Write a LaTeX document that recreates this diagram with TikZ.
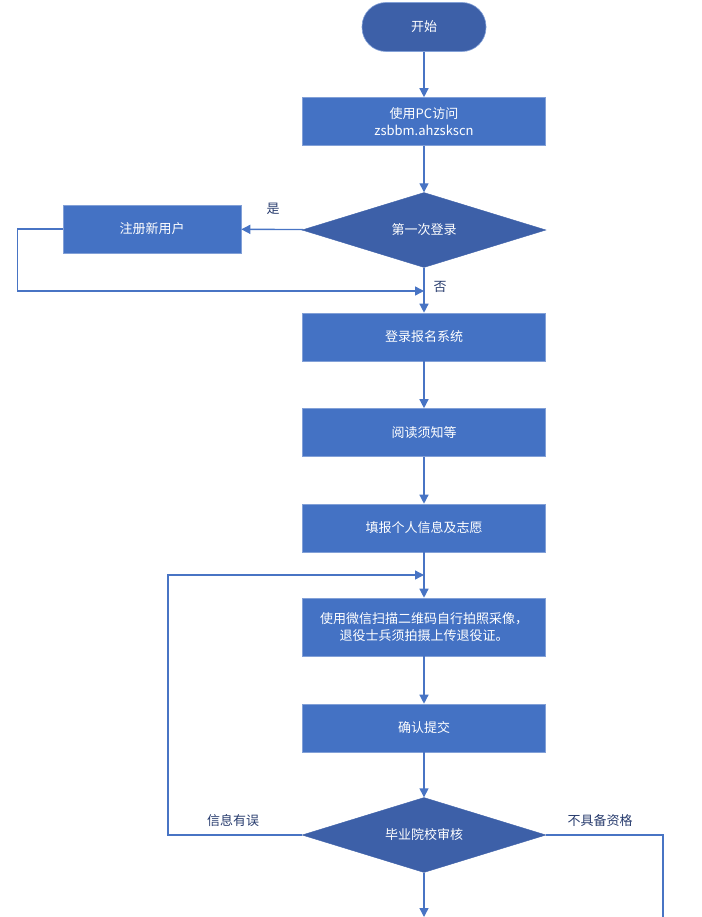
\documentclass[tikz,border=0pt]{standalone}
\usepackage{fontspec}
\setmainfont{Noto Sans CJK SC}
\usetikzlibrary{arrows.meta,shapes.geometric}
\definecolor{boxblue}{RGB}{68,114,196}
\definecolor{darkblue}{RGB}{61,96,168}
\definecolor{edgeblue}{RGB}{130,160,215}
\definecolor{lineblue}{RGB}{72,116,196}
\definecolor{labelblue}{RGB}{40,60,110}
\tikzset{
  stepbox/.style={draw=edgeblue, line width=0.6pt, fill=boxblue, text=white, minimum width=243pt, minimum height=48pt, inner sep=2pt, align=center, font=\fontsize{13}{17}\selectfont},
  smallbox/.style={stepbox, minimum width=178pt},
  decision/.style={diamond, draw=darkblue, fill=darkblue, text=white, minimum width=244pt, minimum height=75pt, inner sep=0pt, aspect=3.25, font=\fontsize{13}{17}\selectfont},
  terminal/.style={draw=edgeblue, line width=0.6pt, fill=darkblue, text=white, rounded corners=24pt, minimum width=124pt, minimum height=49pt, font=\fontsize{13}{17}\selectfont},
  flow/.style={draw=lineblue, line width=1.4pt, -{Triangle[length=9pt,width=9pt]}},
  plain/.style={draw=lineblue, line width=1.4pt},
  lbl/.style={text=labelblue, font=\fontsize{13}{17}\selectfont, inner sep=0pt}
}
\begin{document}
\begin{tikzpicture}[x=1pt,y=-1pt]
\useasboundingbox (0,0) rectangle (701,917);
\node[terminal] (start) at (424,27) {开始};
\node[stepbox] (pc) at (424,121.5) {使用PC访问\\zsbbm.ahzskscn};
\node[decision] (first) at (424,230) {第一次登录};
\node[smallbox] (reg) at (152,229) {注册新用户};
\node[stepbox] (login) at (424,337) {登录报名系统};
\node[stepbox] (read) at (424,432.5) {阅读须知等};
\node[stepbox] (fill) at (424,528) {填报个人信息及志愿};
\node[stepbox, minimum height=58pt] (photo) at (424,627) {使用微信扫描二维码自行拍照采像，\\退役士兵须拍摄上传退役证。};
\node[stepbox] (confirm) at (424,728) {确认提交};
\node[decision] (audit) at (424,835) {毕业院校审核};

\coordinate (j1) at (424,291);
\coordinate (j2) at (424,575);
\coordinate (bot) at (424,917);
\coordinate (rb) at (663,917);

\draw[flow] (start) -- (pc);
\draw[flow] (pc) -- (first);
\draw[flow] (first) -- (reg);
\draw[flow] (first) -- (login);
\draw[flow] (reg.west) -- ++(-45,0) |- (j1);
\draw[flow] (login) -- (read);
\draw[flow] (read) -- (fill);
\draw[flow] (fill) -- (photo);
\draw[flow] (audit.west) -- ++(-134,0) |- (j2);
\draw[flow] (photo) -- (confirm);
\draw[flow] (confirm) -- (audit);
\draw[flow] (audit) -- (bot);
\draw[plain] (audit.east) -| (rb);

\node[lbl] at (273,209) {是};
\node[lbl] at (440,287) {否};
\node[lbl] at (233,821) {信息有误};
\node[lbl] at (600,821) {不具备资格};
\end{tikzpicture}
\end{document}
